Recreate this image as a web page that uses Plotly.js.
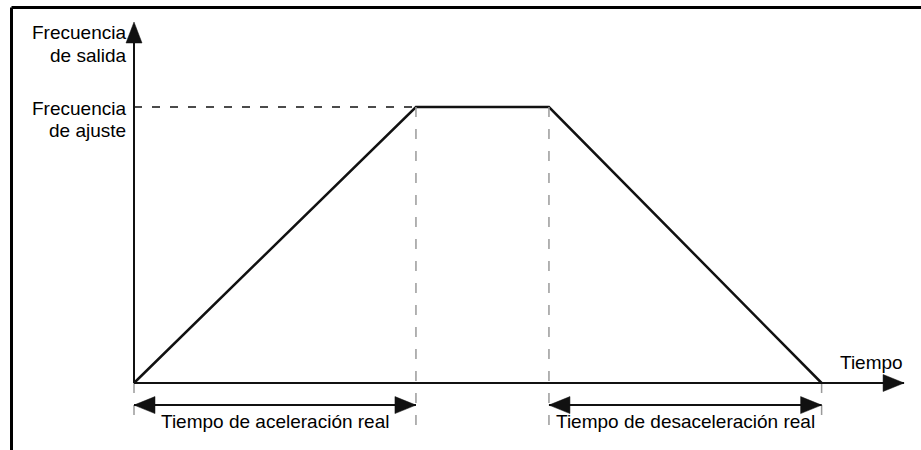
<!DOCTYPE html>
<html>
<head>
<meta charset="utf-8">
<script src="https://cdn.plot.ly/plotly-3.0.1.min.js"></script>
<style>
  html, body { margin: 0; padding: 0; background: #fff; }
  #chart { width: 921px; height: 450px; }
</style>
</head>
<body>
<div id="chart"></div>
<script>
// corner times of the profile (start, end of accel, start of decel, stop) and output frequency
const times = [0, 2.12, 3.12, 5.17];
const freq = [0, 1, 1, 0];
const yLabelTop = ['Frecuencia', 'de salida'];
const yLabelSet = ['Frecuencia', 'de ajuste'];
const xLabel = 'Tiempo';
const phaseLabels = ['Tiempo de aceleración real', 'Tiempo de desaceleración real'];

const W = 921, H = 450;
const font = 'Liberation Sans, Arial, sans-serif';

const tAccEnd = times[1], tDecStart = times[2], tEnd = times[3];
const fSet = freq[1];
const axisTimeMax = 5.79, axisFreqMax = 1.308;
const arrowY = -0.08, guideBottom = -0.155;

function px(x) { return x / W; }
function py(y) { return 1 - y / H; }

const dashBlack = {color: '#111', width: 1.5, dash: '8px,10px'};
const dashGray = {color: '#9a9a9a', width: 1.5, dash: '10px,12px'};
const solid = {color: '#111', width: 2};

function line(x0, y0, x1, y1, style) {
    return {type: 'line', xref: 'x', yref: 'y', x0: x0, y0: y0, x1: x1, y1: y1, line: style};
}

function head(x, y, dir) {
    const paths = {
        right: 'M0,0 L-21,8.5 L-21,-8.5 Z',
        left: 'M0,0 L21,8.5 L21,-8.5 Z',
        up: 'M0,0 L-8,-21 L8,-21 Z'
    };
    return {
        type: 'path', xref: 'x', yref: 'y',
        xsizemode: 'pixel', ysizemode: 'pixel',
        xanchor: x, yanchor: y,
        path: paths[dir],
        fillcolor: '#111',
        line: {color: '#111', width: 0.5}
    };
}

const shapes = [
    // frame
    {type: 'line', xref: 'paper', yref: 'paper', x0: px(11.5), y0: py(7.5), x1: 1, y1: py(7.5), line: {color: '#000', width: 3}},
    {type: 'line', xref: 'paper', yref: 'paper', x0: px(11.5), y0: py(7.5), x1: px(11.5), y1: 0, line: {color: '#000', width: 3}},

    // guides
    line(0, fSet, tAccEnd, fSet, dashBlack),
    line(tAccEnd, fSet, tAccEnd, guideBottom, dashGray),
    line(tDecStart, fSet, tDecStart, guideBottom, dashGray),
    line(0, 0, 0, guideBottom, dashGray),
    line(tEnd, 0, tEnd, guideBottom, dashGray),

    // axes
    line(0, 0, 0, axisFreqMax - 0.05, solid),
    line(0, 0, axisTimeMax, 0, solid),
    head(0, axisFreqMax, 'up'),
    head(axisTimeMax, 0, 'right'),

    // phase arrows
    line(0, arrowY, tAccEnd, arrowY, solid),
    head(0, arrowY, 'left'),
    head(tAccEnd, arrowY, 'right'),
    line(tDecStart, arrowY, tEnd, arrowY, solid),
    head(tDecStart, arrowY, 'left'),
    head(tEnd, arrowY, 'right')
];

const textFont = {family: font, size: 19, color: '#000'};

function label(text, opts) {
    return Object.assign({text: text, showarrow: false, font: textFont, yanchor: 'middle'}, opts);
}

const annotations = [
    label(yLabelTop[0], {xref: 'paper', yref: 'paper', x: px(128), y: py(32), xanchor: 'right'}),
    label(yLabelTop[1], {xref: 'paper', yref: 'paper', x: px(128), y: py(55), xanchor: 'right'}),
    label(yLabelSet[0], {xref: 'x', yref: 'y', x: 0, y: fSet, xshift: -6, yshift: -1, xanchor: 'right'}),
    label(yLabelSet[1], {xref: 'x', yref: 'y', x: 0, y: fSet, xshift: -6, yshift: -23, xanchor: 'right'}),
    label(xLabel, {xref: 'x', yref: 'y', x: axisTimeMax, y: 0, xshift: 1, yshift: 21, xanchor: 'right'}),
    label(phaseLabels[0], {xref: 'x', yref: 'y', x: (times[0] + tAccEnd) / 2, y: arrowY, yshift: -16, xanchor: 'center'}),
    label(phaseLabels[1], {xref: 'x', yref: 'y', x: (tDecStart + tEnd) / 2, y: arrowY, yshift: -16, xanchor: 'center'})
];

const profile = {
    x: times,
    y: freq,
    mode: 'lines',
    line: {color: '#111', width: 2.5},
    cliponaxis: false,
    hoverinfo: 'skip'
};

const layout = {
    width: W,
    height: H,
    margin: {l: 0, r: 0, t: 0, b: 0},
    paper_bgcolor: '#fff',
    plot_bgcolor: '#fff',
    showlegend: false,
    xaxis: {range: [-134 / 133, 787 / 133], visible: false, fixedrange: true},
    yaxis: {range: [-67 / 276, 383 / 276], visible: false, fixedrange: true},
    shapes: shapes,
    annotations: annotations
};

Plotly.newPlot('chart', [profile], layout, {staticPlot: true, displayModeBar: false});
</script>
</body>
</html>
